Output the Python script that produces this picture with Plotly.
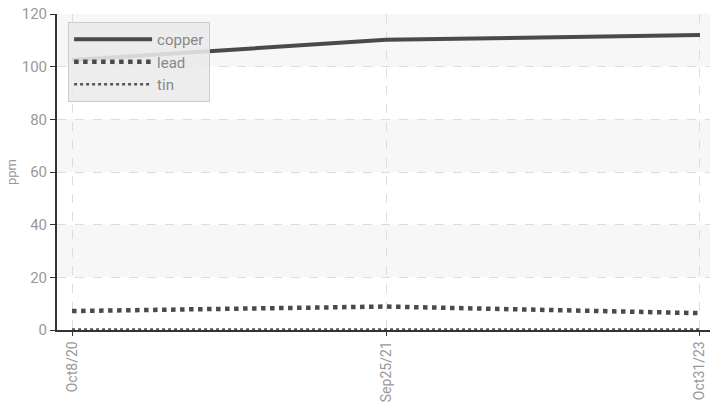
import plotly.graph_objects as go

categories = ["Oct8/20", "Sep25/21", "Oct31/23"]
copper = [102.5, 110.2, 112.0]
lead = [7.2, 8.9, 6.4]
tin = [0.2, 0.2, 0.2]
y_ticks = [0, 20, 40, 60, 80, 100, 120]

FONT = "Roboto, sans-serif"

fig = go.Figure()
fig.add_trace(go.Scatter(x=categories, y=copper, name="copper", mode="lines",
                         line=dict(color="#4a4a4a", width=4)))
fig.add_trace(go.Scatter(x=categories, y=lead, name="lead", mode="lines",
                         line=dict(color="#4a4a4a", width=4.5, dash="dot")))
fig.add_trace(go.Scatter(x=categories, y=tin, name="tin", mode="lines",
                         line=dict(color="#555555", width=2.5, dash="dot")))

shapes = []
for lo in [20, 60, 100]:
    shapes.append(dict(type="rect", xref="paper", yref="y", x0=0, x1=1, y0=lo, y1=lo + 20,
                       fillcolor="#f7f7f7", line=dict(width=0), layer="below"))

fig.update_layout(
    width=710, height=409,
    margin=dict(l=57, r=0, t=14, b=79, autoexpand=False),
    paper_bgcolor="white", plot_bgcolor="white",
    font=dict(family=FONT, color="#999999", size=14),
    shapes=shapes,
    showlegend=True,
    hovermode=False,
    legend=dict(x=0.017, y=0.975, xanchor="left", yanchor="top",
                bgcolor="rgba(234,234,234,0.88)", bordercolor="#cccccc", borderwidth=1,
                font=dict(family=FONT, size=15, color="#888888"),
                itemwidth=78, tracegroupgap=0),
    xaxis=dict(type="category", range=[-0.048, 2.032], tickangle=-90,
               showline=True, linecolor="#333333", linewidth=1.5,
               ticks="outside", ticklen=4, tickcolor="#333333",
               showgrid=True, gridcolor="#dddddd", griddash="dash", gridwidth=1,
               tickfont=dict(family=FONT, size=14, color="#999999"), zeroline=False),
    yaxis=dict(range=[0, 120], tickvals=y_ticks,
               showline=True, linecolor="#333333", linewidth=2,
               ticks="outside", ticklen=5, tickcolor="#333333",
               showgrid=True, gridcolor="#dddddd", griddash="dash", gridwidth=1,
               zeroline=False,
               title=dict(text="ppm", font=dict(family=FONT, size=13, color="#999999"), standoff=2),
               tickfont=dict(family=FONT, size=15, color="#999999")),
)

fig.write_html("out.html", config={"displayModeBar": False},
               post_script="document.body.style.margin='0';")
